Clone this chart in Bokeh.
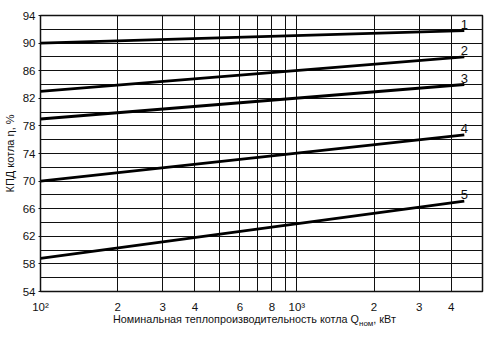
from bokeh.plotting import figure
from bokeh.models import FixedTicker, ColumnDataSource, Div
from bokeh.layouts import column
from bokeh.core.properties import value
from bokeh.embed import file_html
from bokeh.resources import INLINE

# data
q = [100, 4500]
eff1 = [90.0, 91.8]
eff2 = [83.0, 88.0]
eff3 = [79.0, 84.0]
eff4 = [70.0, 76.7]
eff5 = [58.8, 67.1]
curve_names = ["1", "2", "3", "4", "5"]
x_ticks = [100, 200, 300, 400, 600, 800, 1000, 2000, 3000, 4000]
x_minor = [500, 700, 900]
x_tick_labels = ["10²", "2", "3", "4", "6", "8", "10³", "2", "3", "4"]
y_ticks = [54, 58, 62, 66, 70, 74, 78, 82, 86, 90, 94]
y_minor = [56, 60, 64, 68, 72, 76, 80, 84, 88, 92]

FONT = "Liberation Sans"
INK = "#111111"

p = figure(width=493, height=315, x_axis_type="log", x_range=(100, 5300), y_range=(54, 94),
           output_backend="svg", toolbar_location=None,
           min_border_left=37, min_border_right=11, min_border_top=15, min_border_bottom=20)
p.background_fill_color = "white"
p.border_fill_color = "white"
p.outline_line_color = INK
p.outline_line_width = 1.5

p.xaxis.ticker = FixedTicker(ticks=x_ticks, minor_ticks=x_minor)
p.yaxis.ticker = FixedTicker(ticks=y_ticks, minor_ticks=y_minor)
p.xaxis.major_label_overrides = {t: s for t, s in zip(x_ticks, x_tick_labels)}

for ax in (p.xaxis, p.yaxis):
    ax.axis_line_color = None
    ax.major_tick_line_color = INK
    ax.minor_tick_line_color = None
    ax.major_tick_in = 0
    ax.major_tick_out = 2
    ax.major_label_text_font = FONT
    ax.major_label_text_font_size = "11.5px"
    ax.major_label_text_color = INK
p.xaxis.major_tick_out = 0
p.xaxis.major_label_standoff = 5
p.yaxis.major_label_standoff = 1

p.yaxis.axis_label = "КПД котла η, %"
p.yaxis.axis_label_text_font = FONT
p.yaxis.axis_label_text_font_size = "11px"
p.yaxis.axis_label_text_font_style = "normal"
p.yaxis.axis_label_text_color = INK
p.yaxis.axis_label_standoff = 4

for g in (p.xgrid, p.ygrid):
    g.grid_line_color = INK
    g.grid_line_width = 1
    g.minor_grid_line_color = INK
    g.minor_grid_line_width = 1

series = [eff1, eff2, eff3, eff4, eff5]
for ys in series:
    p.line(q, ys, line_color="black", line_width=2.8)

src = ColumnDataSource(dict(x=[q[-1]] * len(series), y=[s[-1] for s in series], t=curve_names))
p.text(x="x", y="y", text="t", source=src, text_align="center", text_baseline="bottom",
       y_offset=-2, text_font=value(FONT), text_font_size="13px", text_color=INK)

xlabel = Div(
    text='Номинальная теплопроизводительность котла Q<sub style="font-size:8px">ном</sub>, кВт',
    width=493, height=22, margin=(0, 0, 0, 0),
    styles={"font-family": FONT, "font-size": "10.8px", "color": INK,
            "padding-left": "113px", "line-height": "8px", "white-space": "nowrap"})

layout = column(p, xlabel, spacing=0, margin=(0, 0, 0, 0))
open("out.html", "w").write(file_html(layout, INLINE))
